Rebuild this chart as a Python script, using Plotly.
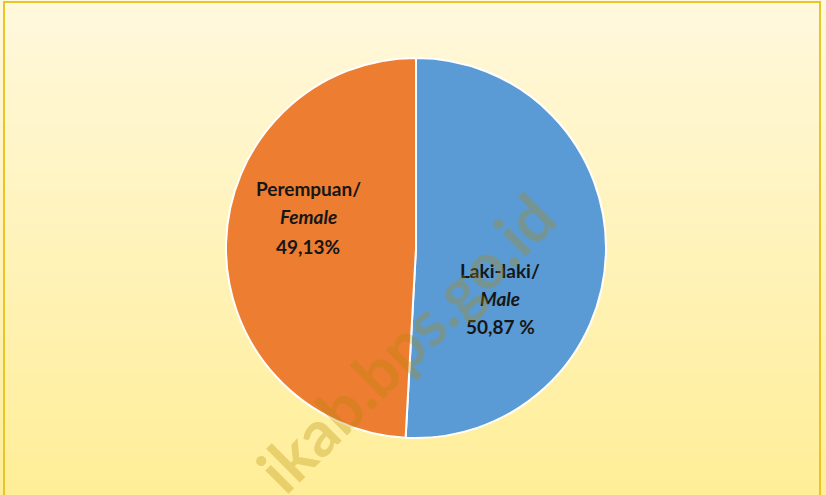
import plotly.graph_objects as go

labels = ["Laki-laki/Male", "Perempuan/Female"]
values = [50.87, 49.13]
label_id = ["Laki-laki/", "Perempuan/"]
label_en = ["Male", "Female"]
pct_text = ["50,87 %", "49,13%"]
colors = ["#5B9BD5", "#ED7D31"]

W, H = 826, 495
fig = go.Figure()

fig.add_trace(go.Pie(
    labels=labels, values=values, sort=False, direction="clockwise", rotation=0,
    marker=dict(colors=colors, line=dict(color="white", width=2)),
    textinfo="none", hoverinfo="label+percent", showlegend=False,
    domain=dict(x=[(416 - 190) / W, (416 + 190) / W], y=[(H - 438) / H, (H - 58) / H]),
))

# gradient background as thin bands
shapes = []
n = 60
top = (255, 248, 220)
bot = (255, 238, 152)
for i in range(n):
    t = i / (n - 1)
    c = tuple(int(round(top[k] + (bot[k] - top[k]) * t)) for k in range(3))
    shapes.append(dict(type="rect", xref="paper", yref="paper",
                       x0=0, x1=1, y0=1 - (i + 1) / n - 0.002, y1=1 - i / n,
                       fillcolor="rgb(%d,%d,%d)" % c, line=dict(width=0), layer="below"))
shapes.append(dict(type="rect", xref="paper", yref="paper",
                   x0=4 / W, x1=820 / W, y0=-0.02, y1=1 - 2 / H,
                   line=dict(color="#E8C62A", width=2), fillcolor="rgba(0,0,0,0)", layer="below"))

font = "Lato, 'Open Sans', sans-serif"
ann = []
pos = [(500, [270, 298, 326]), (308, [188, 217, 246])]
for i in range(2):
    x, ys = pos[i]
    lines = ["<b>%s</b>" % label_id[i], "<b><i>%s</i></b>" % label_en[i], "<b>%s</b>" % pct_text[i]]
    for txt, y in zip(lines, ys):
        ann.append(dict(x=x / W, y=1 - y / H, xref="paper", yref="paper", text=txt,
                        showarrow=False, align="center", xanchor="center", yanchor="middle",
                        font=dict(family=font, size=19, color="#161616")))

ann.append(dict(x=405 / W, y=1 - 342 / H, xref="paper", yref="paper", text="<b>ikab.bps.go.id</b>",
                showarrow=False, textangle=-45, xanchor="center", yanchor="middle",
                font=dict(family=font, size=64, color="rgba(180,135,0,0.3)")))

fig.update_layout(width=W, height=H, margin=dict(l=0, r=0, t=0, b=0),
                  paper_bgcolor="#FFF5C8", plot_bgcolor="rgba(0,0,0,0)",
                  shapes=shapes, annotations=ann)
fig.write_html("out.html", config={"displayModeBar": False},
               post_script="document.body.style.margin='0';document.body.style.overflow='hidden';")
